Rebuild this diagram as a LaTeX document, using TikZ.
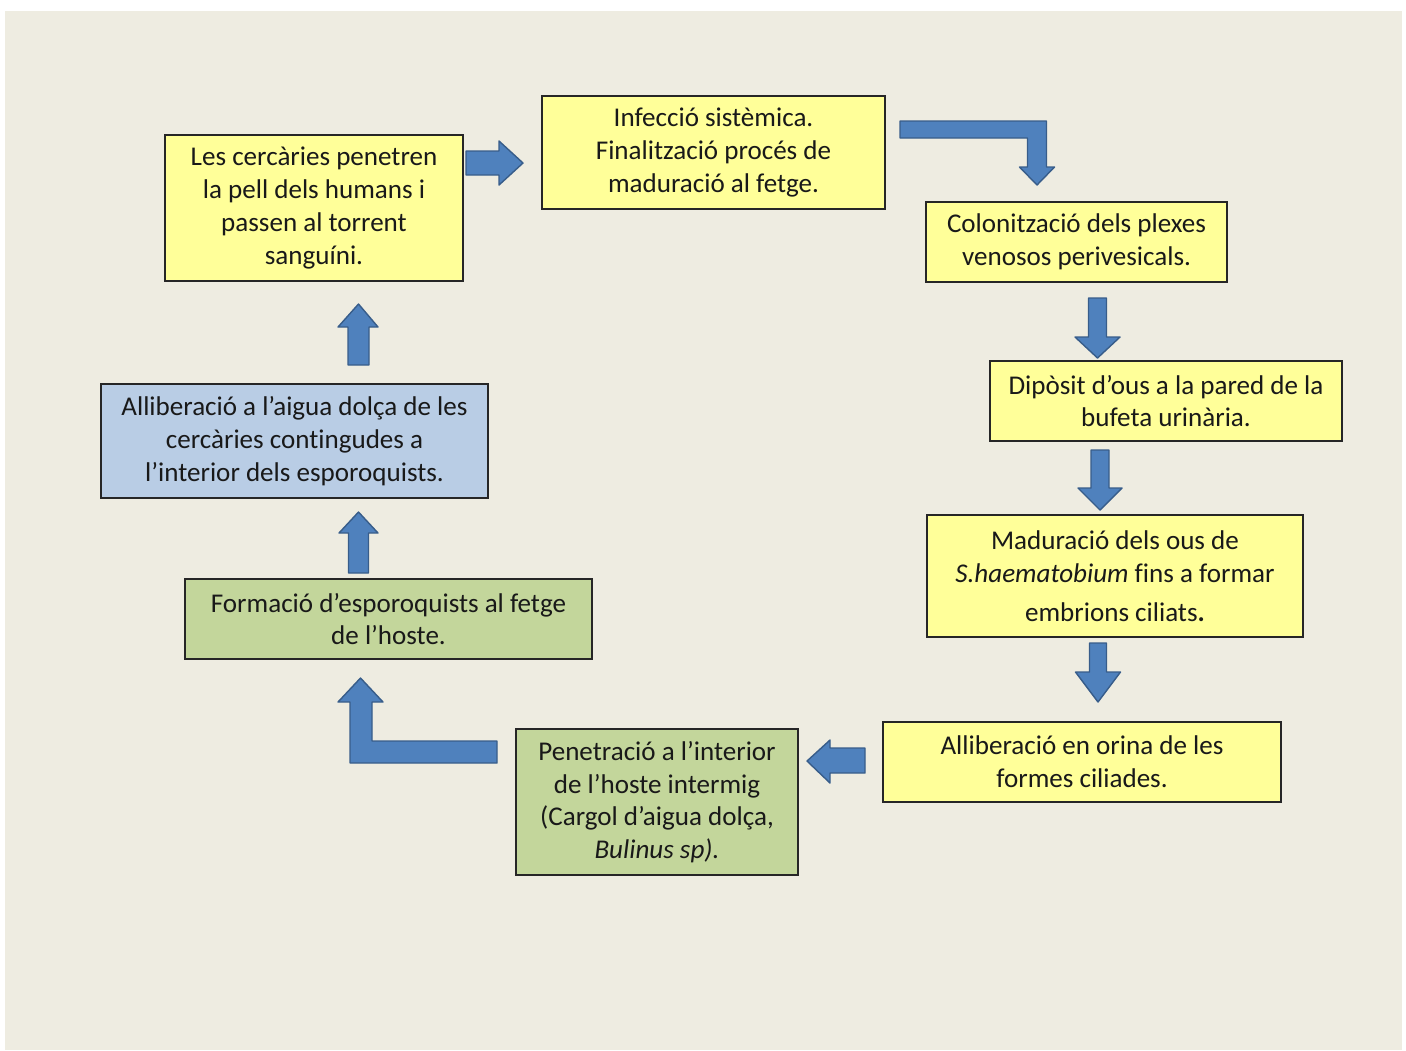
\documentclass[tikz,border=0pt]{standalone}
\usepackage{fontspec}
\setmainfont{Carlito}[Ligatures=NoCommon]
\usepackage{tikz}
\usepackage{xcolor}

\definecolor{slidebg}{HTML}{EEECE1}
\definecolor{boxyellow}{HTML}{FFFF99}
\definecolor{boxgreen}{HTML}{C3D69B}
\definecolor{boxblue}{HTML}{B9CDE5}
\definecolor{arrowfill}{HTML}{4F81BD}
\definecolor{arrowedge}{HTML}{385D8A}

\tikzset{
  stage/.style={draw=black!85, line width=0.5pt, align=center, inner sep=0pt,
    text=black!90, font=\fontsize{7.7}{9.3}\selectfont},
  yellowbox/.style={stage, fill=boxyellow},
  greenbox/.style={stage, fill=boxgreen},
  bluebox/.style={stage, fill=boxblue},
  blockarrow/.style={fill=arrowfill, draw=arrowedge, line width=0.4pt, line join=round}
}

\begin{document}
\begin{tikzpicture}[x=0.1cm, y=-0.1cm]
  % Slide
  \useasboundingbox (0,0) rectangle (140.6,105);
  \fill[slidebg] (0.5,1.1) rectangle (140.2,105);

  % Human host
  \node[yellowbox, minimum width=2.98cm, minimum height=1.46cm] (cercaries) at (31.4,20.8)
    {Les cercàries penetren\\la pell dels humans i\\passen al torrent\\sanguíni.};
  \node[yellowbox, minimum width=3.43cm, minimum height=1.13cm] (infeccio) at (71.35,15.25)
    {Infecció sistèmica.\\Finalització procés de\\maduració al fetge.};
  \node[yellowbox, minimum width=3.01cm, minimum height=0.80cm] (colonitzacio) at (107.65,24.2)
    {Colonització dels plexes\\venosos perivesicals.};
  \node[yellowbox, minimum width=3.52cm, minimum height=0.80cm] (diposit) at (116.6,40.1)
    {Dipòsit d’ous a la pared de la\\bufeta urinària.};
  \node[yellowbox, minimum width=3.76cm, minimum height=1.22cm] (maduracio) at (111.5,57.6)
    {Maduració dels ous de\\\textit{S.haematobium} fins a formar\\[1.7pt]embrions ciliats\textbf{.}};
  \node[yellowbox, minimum width=3.98cm, minimum height=0.80cm] (orina) at (108.2,76.2)
    {Alliberació en orina de les\\formes ciliades.};

  % Snail host
  \node[greenbox, minimum width=2.82cm, minimum height=1.46cm] (penetracio) at (65.7,80.2)
    {Penetració a l’interior\\de l’hoste intermig\\(Cargol d’aigua dolça,\\\textit{Bulinus sp).}};
  \node[greenbox, minimum width=4.07cm, minimum height=0.80cm] (formacio) at (38.85,61.9)
    {Formació d’esporoquists al fetge\\de l’hoste.};
  \node[bluebox, minimum width=3.87cm, minimum height=1.14cm] (alliberacio) at (29.45,44.1)
    {Alliberació a l’aigua dolça de les\\cercàries contingudes a\\l’interior dels esporoquists.};

  % Arrows
  \draw[blockarrow] (46.6,15.1) -- (49.9,15.1) -- (49.9,14.1) -- (52.3,16.3)
    -- (49.9,18.5) -- (49.9,17.5) -- (46.6,17.5) -- cycle;
  \draw[blockarrow] (90.0,12.1) -- (104.65,12.1) -- (104.65,16.7) -- (105.45,16.7)
    -- (103.7,18.5) -- (101.95,16.7) -- (102.75,16.7) -- (102.75,13.8) -- (90.0,13.8) -- cycle;
  \draw[blockarrow] (108.85,29.8) -- (110.65,29.8) -- (110.65,33.7) -- (112.0,33.7)
    -- (109.75,35.8) -- (107.5,33.7) -- (108.85,33.7) -- cycle;
  \draw[blockarrow] (109.1,45.0) -- (110.9,45.0) -- (110.9,48.8) -- (112.2,48.8)
    -- (110.0,51.0) -- (107.8,48.8) -- (109.1,48.8) -- cycle;
  \draw[blockarrow] (108.95,64.3) -- (110.65,64.3) -- (110.65,67.2) -- (112.05,67.2)
    -- (109.8,70.2) -- (107.55,67.2) -- (108.95,67.2) -- cycle;
  \draw[blockarrow] (86.5,74.8) -- (83.0,74.8) -- (83.0,74.0) -- (80.7,76.1)
    -- (83.0,78.3) -- (83.0,77.3) -- (86.5,77.3) -- cycle;
  \draw[blockarrow] (49.7,74.1) -- (37.2,74.1) -- (37.2,70.2) -- (38.3,70.2)
    -- (36.05,67.8) -- (33.8,70.2) -- (35.0,70.2) -- (35.0,76.3) -- (49.7,76.3) -- cycle;
  \draw[blockarrow] (34.85,57.3) -- (36.85,57.3) -- (36.85,53.3) -- (37.8,53.3)
    -- (35.85,51.2) -- (33.9,53.3) -- (34.85,53.3) -- cycle;
  \draw[blockarrow] (34.8,36.5) -- (36.9,36.5) -- (36.9,32.7) -- (37.8,32.7)
    -- (35.85,30.4) -- (33.8,32.7) -- (34.8,32.7) -- cycle;

\end{tikzpicture}
\end{document}
